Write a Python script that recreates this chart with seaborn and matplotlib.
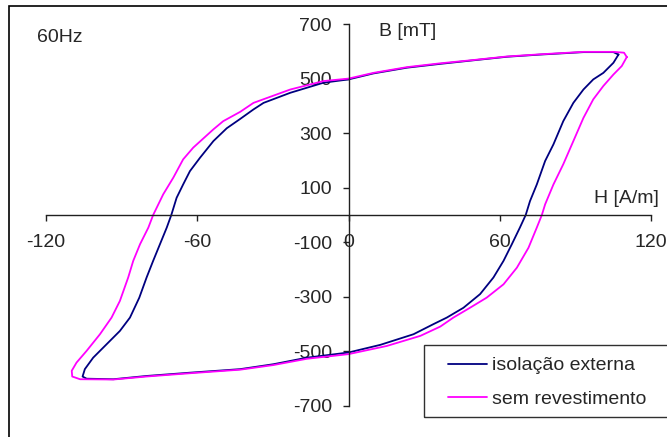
import numpy as np
import pandas as pd
import matplotlib
matplotlib.use("Agg")
import matplotlib.pyplot as plt
import seaborn as sns
from matplotlib.patches import Rectangle
from matplotlib.lines import Line2D

# laço de histerese, 60 Hz: H [A/m], B [mT]
serie_nomes = ["isolação externa", "sem revestimento"]

iso_H = [107.1, 105.1, 93.2, 76, 62.8, 49.5, 36.4, 23.2, 9.9, 0, -9.9, -23.1, -33.7,
         -37.7, -43, -48.3, -53.6, -58.9, -62.9, -65.6, -68.2, -70.3, -72.1, -74.8,
         -77.5, -80.1, -83.0, -86.7, -90.7, -96.0, -101.3, -104.6, -105.5, -103.9,
         -93.3, -80.1, -62.9, -43, -29.8, -16.5, 0, 12.6, 25.8, 33.7, 39, 45.6, 52.2,
         57.5, 61.5, 64.8, 68, 70.3, 72, 74.7, 78, 81.3, 85.2, 89.2, 93.2, 97.1,
         101.1, 105.1, 107.1]
iso_B = [588, 597, 597, 588, 580, 567, 554, 540, 519, 497, 485, 448, 411,
         387, 352, 318, 271, 210, 161, 112, 63, 0, -46, -107,
         -168, -229, -303, -376, -425, -474, -523, -565, -592, -600,
         -602, -590, -578, -565, -547, -523, -504, -476, -437, -400, -376, -340, -290,
         -229, -168, -107, -46, 0, 51, 112, 198, 259, 344, 411, 460, 497,
         521, 558, 588]

sem_H = [110.4, 109.3, 105.1, 93.2, 76, 62.8, 49.5, 36.4, 23.2, 9.9, 0, -9.9, -23.1,
         -37.7, -43, -49.7, -53.6, -61.6, -65.6, -69.5, -73.5, -77.5, -79.4, -82.7,
         -85.4, -87.4, -90.7, -94.0, -98.6, -103.9, -107.9, -109.8, -109.6, -106.5,
         -93.3, -80.1, -62.9, -43, -29.8, -16.5, 0, 15.2, 28.5, 36.4, 41.6, 48.2, 54.8,
         61.5, 66.8, 71.4, 74.7, 76.7, 78, 81.3, 85.2, 89.2, 93.2, 97.1, 101.1, 105.1,
         108.4, 110.4]
sem_B = [579, 595, 598, 598, 589, 581, 568, 556, 542, 521, 500, 491, 460,
         411, 378, 344, 314, 247, 204, 137, 76, 0, -46, -107,
         -168, -229, -315, -376, -437, -498, -541, -571, -592, -602,
         -603, -592, -580, -567, -550, -527, -510, -480, -443, -409, -376, -340, -303,
         -254, -193, -120, -46, 0, 39, 112, 186, 271, 356, 424, 473, 515,
         546, 579]

x_ticks = [-120, -60, 0, 60, 120]
y_ticks = [-700, -500, -300, -100, 100, 300, 500, 700]

df = pd.concat([
    pd.DataFrame({"H": iso_H, "B": iso_B, "serie": serie_nomes[0]}),
    pd.DataFrame({"H": sem_H, "B": sem_B, "serie": serie_nomes[1]}),
], ignore_index=True)

sns.set_style("white")
plt.rcParams["font.family"] = ["Liberation Sans", "DejaVu Sans"]
plt.rcParams["axes.unicode_minus"] = False

fig = plt.figure(figsize=(6.67, 4.37), dpi=100)
ax = fig.add_axes([0.069, 0.071, 0.907, 0.874])

cores = {serie_nomes[0]: "#000080", serie_nomes[1]: "#FF00FF"}
sns.lineplot(data=df, x="H", y="B", hue="serie", sort=False, estimator=None,
             palette=cores, linewidth=1.3, ax=ax, legend=False)

ax.set_xlim(-120, 120)
ax.set_ylim(-700, 700)
ax.set_xticks(x_ticks)
ax.set_yticks(y_ticks)
ax.set_xlabel("")
ax.set_ylabel("")

# eixos cruzando na origem
ax.spines["left"].set_position(("data", 0))
ax.spines["bottom"].set_position(("data", 0))
ax.spines["right"].set_visible(False)
ax.spines["top"].set_visible(False)
for s in ["left", "bottom"]:
    ax.spines[s].set_color("#202020")
    ax.spines[s].set_linewidth(1.0)

ax.tick_params(axis="x", direction="out", length=4, width=1, color="#202020",
               labelsize=14, pad=10, bottom=True)
ax.tick_params(axis="y", direction="out", length=4, width=1, color="#202020",
               labelsize=14, pad=8, left=True)

ax.text(12, 674, "B [mT]", fontsize=14, va="center", ha="left")
ax.text(97.5, 62, "H [A/m]", fontsize=14, va="center", ha="left", clip_on=False)
ax.text(-123.5, 652, "60Hz", fontsize=14, va="center", ha="left", clip_on=False)

# legenda
handles = [Line2D([0], [0], color=cores[n], lw=1.3) for n in serie_nomes]
fig.legend(handles, serie_nomes, loc="upper left", bbox_to_anchor=(0.6485, 0.219),
           frameon=False, fontsize=14, handlelength=2.0, handletextpad=0.25,
           labelspacing=0.8, borderpad=0.3)
fig.add_artist(Rectangle((424 / 667, 1 - 417 / 437), 0.5, 72 / 437,
                         transform=fig.transFigure, fill=False,
                         edgecolor="#303030", linewidth=1.0))

# moldura do gráfico
fig.add_artist(Rectangle((9 / 667, -0.1), 1.2, 1.1 - 6 / 437,
                         transform=fig.transFigure, fill=False,
                         edgecolor="black", linewidth=1.2))

fig.savefig("out.png", dpi=100)
